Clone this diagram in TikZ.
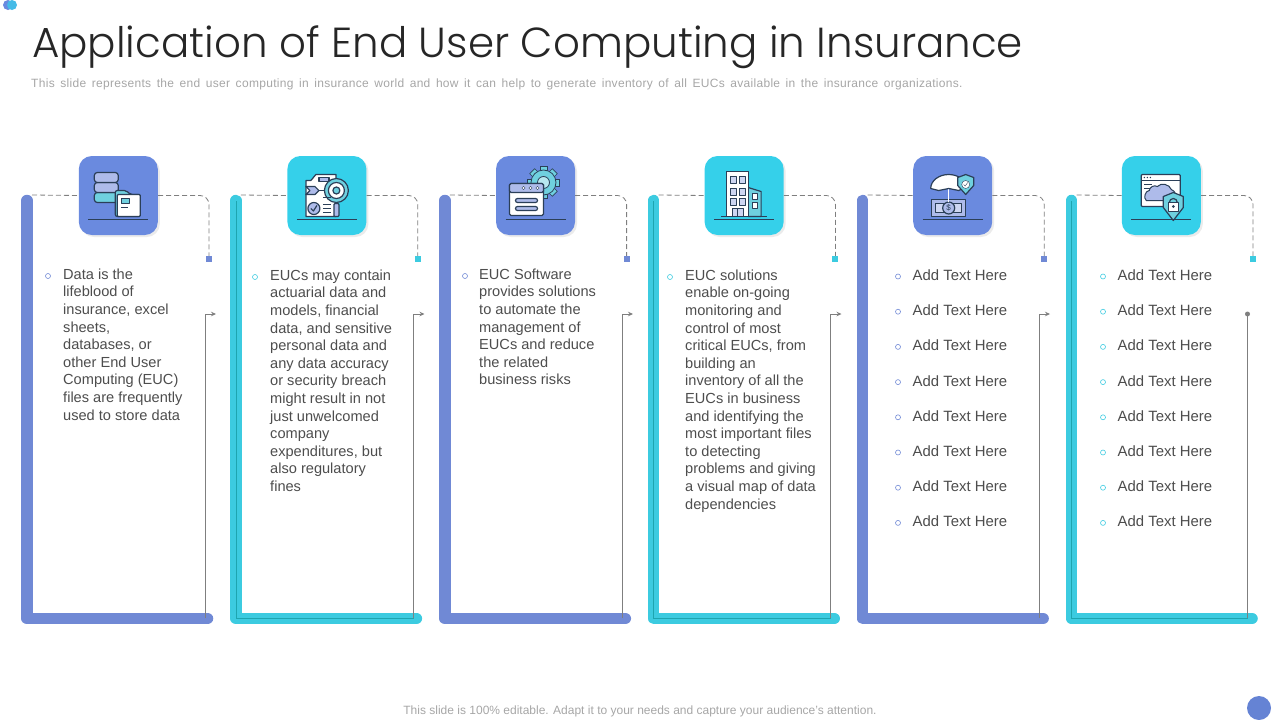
\documentclass[tikz,border=0pt]{standalone}
\usepackage{fontspec}
\setmainfont{Liberation Sans}
\newfontfamily\titlefont{Poppins Light}
\newfontfamily\notefont[LetterSpace=2.5,WordSpace=1.54]{Liberation Sans}
\usepackage{xcolor}
\usetikzlibrary{arrows.meta,shadows}

\definecolor{tileblue}{HTML}{6A8ADF}
\definecolor{tilecyan}{HTML}{35D0EA}
\definecolor{barblue}{HTML}{7089D5}
\definecolor{barcyan}{HTML}{3CCBE0}
\definecolor{inkdark}{HTML}{2B3F58}
\definecolor{softblue}{HTML}{AEBBEA}
\definecolor{softteal}{HTML}{6FD0DF}
\definecolor{bodygrey}{HTML}{4D4D4D}
\definecolor{notegrey}{HTML}{A6A6A6}
\definecolor{wiregrey}{HTML}{7F7F7F}

\tikzset{
  icontile/.style={minimum size=79pt,inner sep=0pt,rounded corners=13pt,fill=#1,
    drop shadow={shadow xshift=2pt,shadow yshift=-2pt,opacity=.08,fill=black}},
  endsquare/.style={minimum size=6pt,inner sep=0pt,fill=#1},
  bodytext/.style={anchor=north west,inner sep=0pt,align=left,text=bodygrey,
    font=\fontsize{14.6}{17.6}\selectfont},
  addtext/.style={anchor=north west,inner sep=0pt,text=bodygrey,
    font=\fontsize{14.9}{17.6}\selectfont},
  ring/.style={circle,minimum size=5pt,inner sep=0pt,draw=#1,line width=.6pt},
  ink/.style={draw=inkdark,line width=1.2pt,line join=round},
}

% the six icons, in pixels from the tile centre
\newcommand{\iconbase}{\draw[inkdark,line width=.9pt] (-30,24) -- (30,24);}
\newcommand{\icondata}{
  \foreach \yy/\cc in {4/softteal,-6/softblue,-16/softblue}
    \draw[ink,fill=\cc,rounded corners=3pt] (-24,\yy-7) rectangle (0,\yy+3);
  \draw[ink,fill=softteal,rounded corners=2pt] (-3,21) -- (-3,-5) -- (8,-5) -- (12,-1) -- (22,-1) -- (22,21) -- cycle;
  \draw[ink,fill=white,rounded corners=1pt] (-1,21) -- (-1,-1) -- (22,-1) -- (22,21) -- cycle;
  \draw[ink,fill=softteal] (3,3) rectangle (11,8);
  \draw[inkdark] (3,12) -- (10,12);
}
\newcommand{\iconreport}{
  \draw[ink,fill=white] (-16,-15) -- (-11,-21) -- (9,-21) -- (9,21) -- (-21,21) -- (-21,-15) -- cycle;
  \draw[ink,fill=softblue] (-8,-18) rectangle (2,-14);
  \draw[ink,fill=softblue] (-21,-9) -- (-12,-9) -- (-8,-5) -- (-12,-1) -- (-21,-1) -- (-17,-5) -- cycle;
  \draw[ink] (-8,-5) -- (0,-5);
  \draw[ink,fill=softblue,rounded corners=1pt] (7,8) rectangle (12,21);
  \draw[ink,fill=softteal] (9.5,-5) circle (12);
  \draw[ink,fill=white] (9.5,-5) circle (8);
  \draw[ink,fill=softteal] (9.5,-5) circle (3.5);
  \draw[ink,fill=softblue] (-13,13) circle (6);
  \draw[ink] (-16,13) -- (-13.5,15.5) -- (-10,10);
  \foreach \yy in {2,9,13,17} \draw[inkdark] (-4,\yy) -- (4,\yy);
}
\newcommand{\iconsoftware}{
  \foreach \aa in {0,45,...,315}
    \fill[softteal,draw=inkdark,line width=.6pt,rotate around={\aa:(8,-13)}] (4.5,-29) rectangle (11.5,-24);
  \draw[draw=inkdark,line width=.8pt,fill=softteal] (8,-13) circle (12.5);
  \draw[draw=inkdark,line width=.8pt,fill=softteal!50!white] (8,-13) circle (6);
  \draw[ink,fill=white,rounded corners=1.5pt] (-26,-12) rectangle (8,20);
  \draw[ink,fill=softblue,rounded corners=1.5pt] (-26,-12) rectangle (8,-3);
  \foreach \xx in {-12,-5,2} \draw[inkdark,fill=white] (\xx,-7.5) circle (1.6);
  \foreach \yy in {5,13} \draw[ink,fill=softblue,rounded corners=2pt] (-20,\yy-2) rectangle (2,\yy+2);
}
\newcommand{\iconbuilding}{
  \draw[ink,fill=softteal] (4,-8) -- (17,-4) -- (17,21) -- (4,21) -- cycle;
  \foreach \yy in {-2,7} \draw[ink,fill=white] (8,\yy) rectangle (13,\yy+6);
  \draw[ink,fill=white] (-18,-24) rectangle (4,21);
  \foreach \yy in {-19,-7,3} \foreach \xx in {-14,-5} \draw[ink,fill=softblue!60!white] (\xx,\yy) rectangle (\xx+6,\yy+7);
  \draw[ink,fill=softblue!60!white] (-12,13) rectangle (-1,21);
  \draw[inkdark] (-6.5,13) -- (-6.5,21);
  \draw[ink] (-23,21) -- (23,21);
}
\newcommand{\iconinsure}{
  \draw[ink,fill=softblue] (-21,4) rectangle (13,21);
  \draw[ink,fill=softblue!60!white] (-17,8) rectangle (9,17);
  \draw[ink,fill=softblue] (-4,12.5) circle (6);
  \node[inkdark,inner sep=0pt,font=\fontsize{8}{8}\selectfont] (dollarsign) at (-4,12.5) {\$};
  \draw[white,line width=1.4pt] (-4,-8) -- (-4,6);
  \draw[ink,fill=white] (-22,-7) arc[start angle=180,end angle=360,x radius=18,y radius=14] -- (10,-7) -- (6,-5) -- (-4,-7) -- (-14,-5) -- cycle;
  \draw[ink,fill=softteal] (13,-21) -- (21,-18) -- (21,-10) -- (13,-1) -- (5,-10) -- (5,-18) -- cycle;
  \draw[inkdark,fill=white] (13,-11) circle (4);
  \draw[inkdark] (11,-11) -- (12.5,-9.5) -- (15,-13);
}
\newcommand{\iconcloud}{
  \draw[ink,fill=white,rounded corners=1pt] (-20,-21) rectangle (19,11);
  \draw[ink] (-20,-15) -- (19,-15);
  \foreach \xx in {-17,-14,-11} \fill[inkdark] (\xx,-18) circle (.8);
  \foreach \yy in {-11,-7} \draw[inkdark] (-17,\yy) -- (-9,\yy);
  \fill[softblue,draw=inkdark,line width=1pt] (-15,5) to[bend left=70] (-12,-5) to[bend left=60] (-4,-9) to[bend left=60] (10,-6) to[bend left=60] (13,5) -- cycle;
  \draw[ink,fill=softteal] (12,-3) -- (22,1) -- (22,12) -- (12,25) -- (2,12) -- (2,1) -- cycle;
  \draw[ink] (8,7) arc[start angle=180,end angle=360,radius=4];
  \draw[ink,fill=white] (7,7) rectangle (17,16);
  \fill[inkdark] (12,11) circle (1.5);
}

\begin{document}
\begin{tikzpicture}[x=1pt,y=-1pt]
  \useasboundingbox (0,0) rectangle (1280,720);

  \fill[tileblue] (8,5) circle (5);
  \fill[tilecyan!70!tileblue] (12,5) circle (5);
  \fill[tileblue!95!black] (1259,708) circle (12);

  \node(title) at (32,47) [anchor=west,inner sep=0pt,text=black!85,font=\titlefont\fontsize{42}{50}\selectfont]
    {Application of End User Computing in Insurance};
  \node(subtitle) at (31,84) [anchor=west,inner sep=0pt,text=notegrey,font=\notefont\fontsize{12}{14}\selectfont]
    {This slide represents the end user computing in insurance world and how it can help to generate inventory of all EUCs available in the insurance organizations.};
  \node(footnote) at (640,711.5) [inner sep=0pt,text=notegrey,font=\fontsize{12}{14}\selectfont]
    {This slide is 100\% editable. Adapt it to your needs and capture your audience's attention.};

  \foreach \i/\bar/\tile/\seam in {0/barblue/tileblue/barblue,1/barcyan/tilecyan/teal!50!barcyan,2/barblue/tileblue/barblue,3/barcyan/tilecyan/teal!50!barcyan,4/barblue/tileblue/barblue,5/barcyan/tilecyan/teal!50!barcyan} {
    \pgfmathsetmacro{\left}{27+208.9*\i}
    \pgfmathsetmacro{\mid}{118.3+208.6*\i}
    \pgfmathsetmacro{\ends}{209+208.8*\i}
    \pgfmathsetmacro{\wire}{205+208.5*\i}

    \draw[\bar,line width=11.5pt,line cap=round,line join=round] (\left,200.5) -- (\left,618.5) -- (\left+180.5,618.5);

    \coordinate(start\i) at (\left,201);
    \coordinate(rise\i) at (\wire,618);
    \coordinate(top\i) at (\wire,314);
    \coordinate(dash\i) at (\left+5,195);
    \node(tile\i) at (\mid,195.5) [icontile=\tile] {};
    \node(end\i) at (\ends,259) [endsquare=\bar] {};

    \draw[\seam,line width=.8pt] (start\i) |- (rise\i);
    \draw[wiregrey,line width=.8pt] (rise\i) -- (top\i);
    \draw[wiregrey,line width=.8pt,dash pattern=on 5pt off 3pt] (dash\i) -- (tile\i.west);
    \draw[wiregrey,line width=.8pt,dash pattern=on 5pt off 3pt,rounded corners=9pt] (tile\i.east) -| (end\i.north);
  }

  \foreach \i in {0,...,4} {
    \pgfmathsetmacro{\tip}{216+208.5*\i}
    \coordinate(tip\i) at (\tip,314);
    \draw[wiregrey,line width=.8pt,-{Stealth[length=5pt,width=4.5pt]}] (top\i) -- (tip\i);
  }
  \node(stop5) at (top5) [circle,minimum size=5pt,inner sep=0pt,fill=wiregrey] {};

  \begin{scope}[shift={(tile0.center)}] \icondata \iconbase \end{scope}
  \begin{scope}[shift={(tile1.center)}] \iconreport \iconbase \end{scope}
  \begin{scope}[shift={(tile2.center)}] \iconsoftware \iconbase \end{scope}
  \begin{scope}[shift={(tile3.center)}] \iconbuilding \iconbase \end{scope}
  \begin{scope}[shift={(tile4.center)}] \iconinsure \iconbase \end{scope}
  \begin{scope}[shift={(tile5.center)}] \iconcloud \iconbase \end{scope}

  \node(bulA) at (48,276) [ring=barblue] {};
  \node(textA) at (63,268.5) [bodytext]
    {Data is the\\lifeblood of\\insurance, excel\\sheets,\\databases, or\\other End User\\Computing (EUC)\\files are frequently\\used to store data};
  \node(bulB) at (255,277) [ring=barcyan] {};
  \node(textB) at (270,269.5) [bodytext]
    {EUCs may contain\\actuarial data and\\models, financial\\data, and sensitive\\personal data and\\any data accuracy\\or security breach\\might result in not\\just unwelcomed\\company\\expenditures, but\\also regulatory\\fines};
  \node(bulC) at (465,276) [ring=barblue] {};
  \node(textC) at (479,268.5) [bodytext]
    {EUC Software\\provides solutions\\to automate the\\management of\\EUCs and reduce\\the related\\business risks};
  \node(bulD) at (670,277) [ring=barcyan] {};
  \node(textD) at (685,269.5) [bodytext]
    {EUC solutions\\enable on-going\\monitoring and\\control of most\\critical EUCs, from\\building an\\inventory of all the\\EUCs in business\\and identifying the\\most important files\\to detecting\\problems and giving\\a visual map of data\\dependencies};

  % the two lists of placeholders
  \foreach \n in {0,...,7} {
    \pgfmathsetmacro{\rowy}{275+35.2*\n}
    \node(bulE\n) at (898,\rowy+1.5) [ring=barblue] {};
    \node(addE\n) at (912.5,\rowy-5.5) [addtext] {Add Text Here};
    \node(bulF\n) at (1103,\rowy+1.5) [ring=barcyan] {};
    \node(addF\n) at (1117.5,\rowy-5.5) [addtext] {Add Text Here};
  }
\end{tikzpicture}
\end{document}
